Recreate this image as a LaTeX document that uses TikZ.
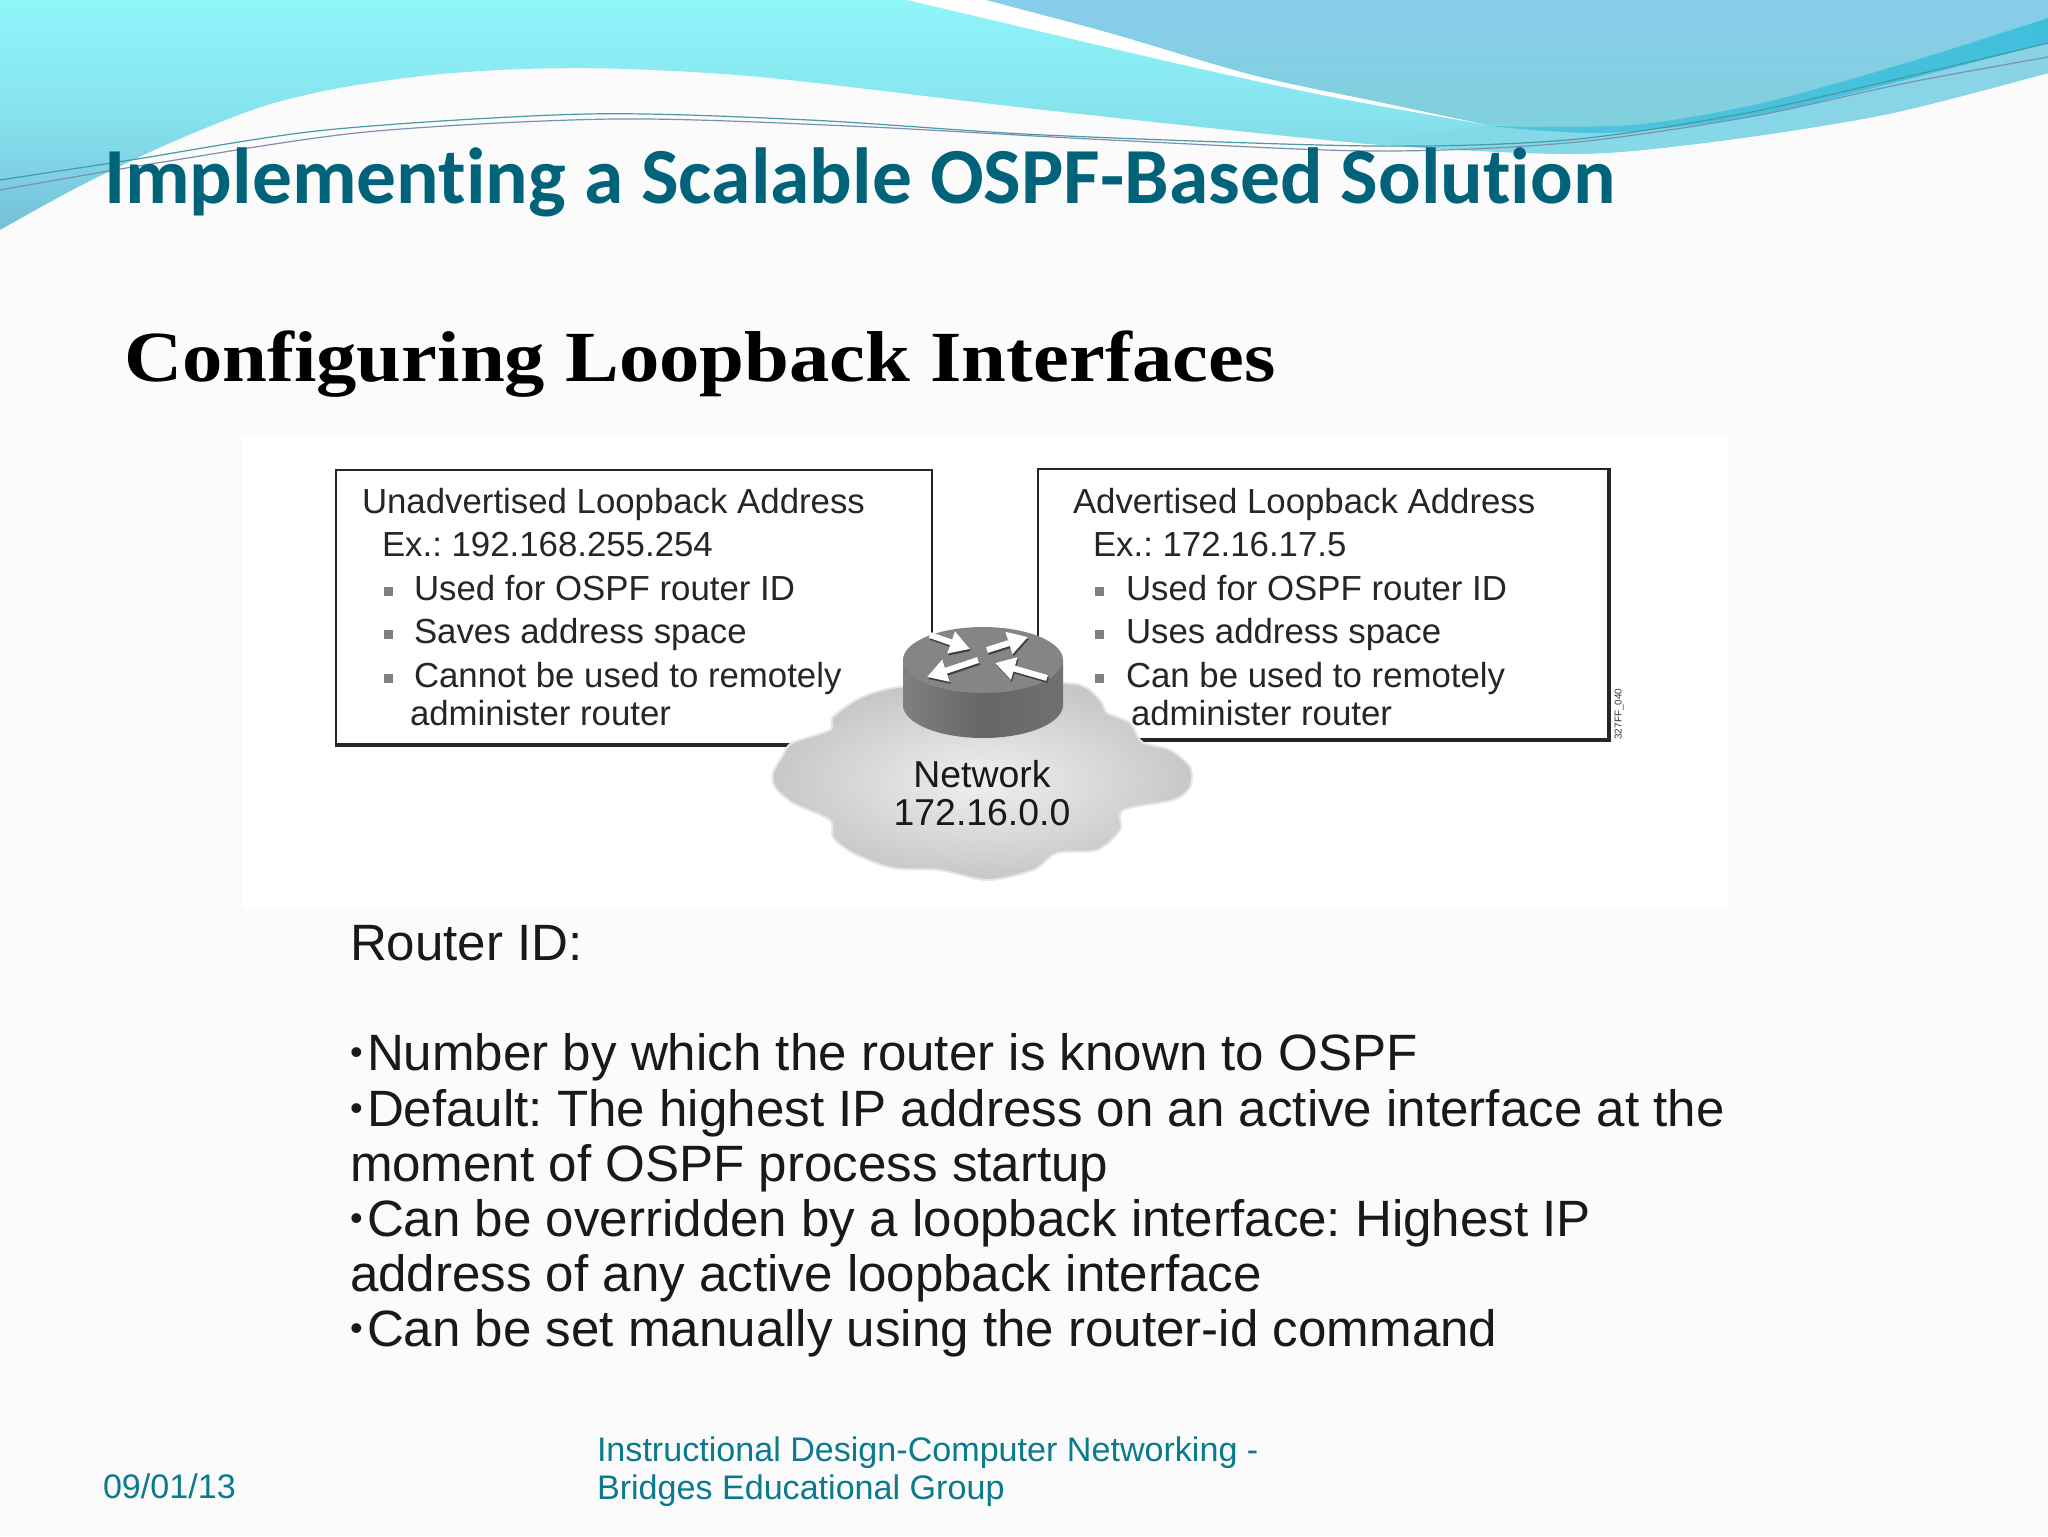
\documentclass[tikz,border=0pt]{standalone}
\usepackage{fontspec}
\setmainfont{Liberation Sans}
\newfontfamily\titlefont[Ligatures=NoCommon]{Carlito}
\newfontfamily\headfont[FakeStretch=1.12]{Liberation Serif}
\usetikzlibrary{arrows.meta}
\definecolor{pagebg}{HTML}{FBFBFC}
\definecolor{titleteal}{HTML}{00637A}
\definecolor{footteal}{HTML}{0A7A8C}
\definecolor{wavecyan}{HTML}{8FF6FA}
\definecolor{wavelow}{HTML}{76BFD8}
\definecolor{waveblue}{HTML}{88CDEA}
\definecolor{wavemoss}{HTML}{80D0DC}
\definecolor{wavedeep}{HTML}{40BFDC}
\definecolor{wavepale}{HTML}{8AD3E6}
\newcommand{\bdot}{\makebox[8.5pt][l]{\fontsize{18}{18}\selectfont\raisebox{.3ex}{•}}}
\frenchspacing

\begin{document}
\begin{tikzpicture}[x=0.5pt,y=-0.5pt,
    textline/.style={anchor=base west,inner sep=0pt,outer sep=0pt},
    boxtext/.style={textline,font=\fontsize{17.4}{20}\selectfont,text=black!85},
    bodytext/.style={textline,font=\fontsize{25.55}{30}\selectfont,text=black!90},
    foottext/.style={textline,font=\fontsize{17.05}{20}\selectfont,text=footteal},
    nettext/.style={font=\fontsize{18.7}{20}\selectfont,text=black!90,inner sep=0pt,anchor=base},
    bulletsq/.style={fill=black!50,inner sep=0pt,minimum size=4.5pt},
    boxline/.style={draw=black!85,line width=1.2pt,anchor=north west},
    boxedge/.style={black!85,line width=2pt}]
    \useasboundingbox (0,0) rectangle (2048,1536);
    \fill[pagebg] (0,0) rectangle (2048,1536);

    \shade[top color=wavecyan,bottom color=wavelow,middle color=wavecyan!65!wavelow]
    (0,0) -- (2048,0) -- plot[smooth] coordinates
    {(2048,73) (1893,113) (1749,137) (1619,152) (1527,153) (1358,143) (1044,110) (770,78) (627,69) (522,69) (431,75) (339,88) (261,107) (170,143) (78,187) (0,230)} -- cycle;
    \shade[left color=wavecyan!50!wavelow,right color=wavepale]
    plot[smooth] coordinates {(1358,143) (1527,153) (1619,152) (1749,137) (1893,113) (2048,73)}
    -- (2048,30) -- (1749,100) -- (1488,125) -- cycle;
    \fill[white] plot[smooth] coordinates {(907,0) (992,20) (1175,63) (1332,97) (1488,125)}
    -- plot[smooth] coordinates {(1488,125) (1384,103) (1253,75) (1110,33) (986,0)} -- cycle;
    \shade[top color=waveblue,bottom color=wavemoss]
    plot[smooth] coordinates {(986,0) (1110,33) (1253,75) (1384,103) (1488,125)}
    -- plot[smooth] coordinates {(1488,125) (1632,125) (1762,103) (1906,63) (2048,18)} -- (2048,0) -- cycle;
    \shade[left color=wavedeep!70!wavemoss,right color=wavedeep]
    plot[smooth] coordinates {(1488,126) (1632,125) (1762,103) (1906,63) (2048,18)}
    -- plot[smooth] coordinates {(2048,43) (1893,83) (1749,117) (1606,133) (1488,126)} -- cycle;
    \draw[color={rgb,255:red,70;green,155;blue,165},line width=0.6pt] plot[smooth] coordinates
    {(0,180) (131,160) (326,130) (587,114) (809,120) (1044,135) (1371,146) (1567,140) (1736,115) (1893,80) (2048,43)};
    \draw[color={rgb,255:red,125;green,145;blue,175},line width=0.6pt] plot[smooth] coordinates
    {(0,190) (157,163) (366,132) (614,119) (849,126) (1110,140) (1371,151) (1567,143) (1749,117) (1906,83) (2048,57)};

    \node[textline,font=\titlefont\bfseries\fontsize{39.75}{42}\selectfont,text=titleteal] (title) at (104,203) {Implementing a Scalable OSPF-Based Solution};
    \node[textline,font=\headfont\bfseries\fontsize{36}{40}\selectfont,text=black] (subtitle) at (124,381) {Configuring Loopback Interfaces};

    \fill[white] (242,437) rectangle (1728,910);
    \node[boxline,minimum width=298pt,minimum height=137pt] (leftbox) at (335,469) {};
    \node[boxline,minimum width=285pt,minimum height=135pt] (rightbox) at (1037,468) {};
    \draw[boxedge] (leftbox.south west) -- (leftbox.south east);
    \draw[boxedge] (rightbox.north east) -- (rightbox.south east) -- (rightbox.south west);

    \node[boxtext] (lefthead) at (362,513) {Unadvertised Loopback Address};
    \node[boxtext] (leftex) at (382,556) {Ex.: 192.168.255.254};
    \node[bulletsq] (leftdot1) at (388,591) {};
    \node[boxtext] (leftone) at (414,600) {Used for OSPF router ID};
    \node[bulletsq] (leftdot2) at (388,634) {};
    \node[boxtext] (lefttwo) at (414,643) {Saves address space};
    \node[bulletsq] (leftdot3) at (388,678) {};
    \node[boxtext] (leftthree) at (414,687) {Cannot be used to remotely};
    \node[boxtext] (leftfour) at (410,725) {administer router};

    \node[boxtext] (righthead) at (1073,513) {Advertised Loopback Address};
    \node[boxtext] (rightex) at (1093,556) {Ex.: 172.16.17.5};
    \node[bulletsq] (rightdot1) at (1099,591) {};
    \node[boxtext] (rightone) at (1126,600) {Used for OSPF router ID};
    \node[bulletsq] (rightdot2) at (1099,634) {};
    \node[boxtext] (righttwo) at (1126,643) {Uses address space};
    \node[bulletsq] (rightdot3) at (1099,678) {};
    \node[boxtext] (rightthree) at (1126,687) {Can be used to remotely};
    \node[boxtext] (rightfour) at (1131,725) {administer router};
    \node[font=\fontsize{5}{6}\selectfont,text=black!80,rotate=90,inner sep=0pt] (figcode) at (1619,714) {327FF\_040};

    \shade[inner color=black!6,outer color=black!22,draw=black!10,line width=1pt] plot[smooth cycle] coordinates
    {(773,773) (782,757) (792,743) (830,730) (833,717) (860,698) (893,688) (953,683) (1063,683) (1087,688) (1102,703) (1107,713) (1130,723) (1142,742) (1170,750) (1190,767) (1190,787) (1173,800) (1123,810) (1120,830) (1097,850) (1057,853) (1033,870) (987,880) (940,870) (893,868) (853,853) (833,837) (830,820) (793,803) (775,787)};
    \node[nettext] (netname) at (982,787) {Network};
    \node[nettext] (netaddr) at (982,825) {172.16.0.0};

    \shade[left color=black!50,right color=black!56,middle color=black!60]
    (903,660) -- (903,705) arc[start angle=180,end angle=0,x radius=80,y radius=33] -- (1063,660) -- cycle;
    \fill[black!48] (983,660) ellipse[x radius=80,y radius=33];
    \foreach \xa/\ya/\xb/\yb in {930/635/970/649,987/650/1028/637,978/660/927/677,1047/678/995/663}{
        \draw[black!75,line width=3pt,-{Triangle[length=10pt,width=11pt]}] (\xa+1,\ya+2) -- (\xb+1,\yb+2);
        \draw[white,line width=3pt,-{Triangle[length=10pt,width=11pt]}] (\xa,\ya) -- (\xb,\yb);
    }

    \node[bodytext] (routerid) at (350,960) {Router ID:};
    \node[bodytext] (lineone) at (350,1070) {\bdot Number by which the router is known to OSPF};
    \node[bodytext] (linetwo) at (350,1126) {\bdot Default: The highest IP address on an active interface at the};
    \node[bodytext] (linethree) at (350,1181) {moment of OSPF process startup};
    \node[bodytext] (linefour) at (350,1236) {\bdot Can be overridden by a loopback interface: Highest IP};
    \node[bodytext] (linefive) at (350,1291) {address of any active loopback interface};
    \node[bodytext] (linesix) at (350,1346) {\bdot Can be set manually using the router-id command};

    \node[foottext] (footdate) at (103,1498) {09/01/13};
    \node[foottext] (footone) at (597,1461) {Instructional Design-Computer Networking -};
    \node[foottext] (foottwo) at (597,1499) {Bridges Educational Group};
\end{tikzpicture}
\end{document}
